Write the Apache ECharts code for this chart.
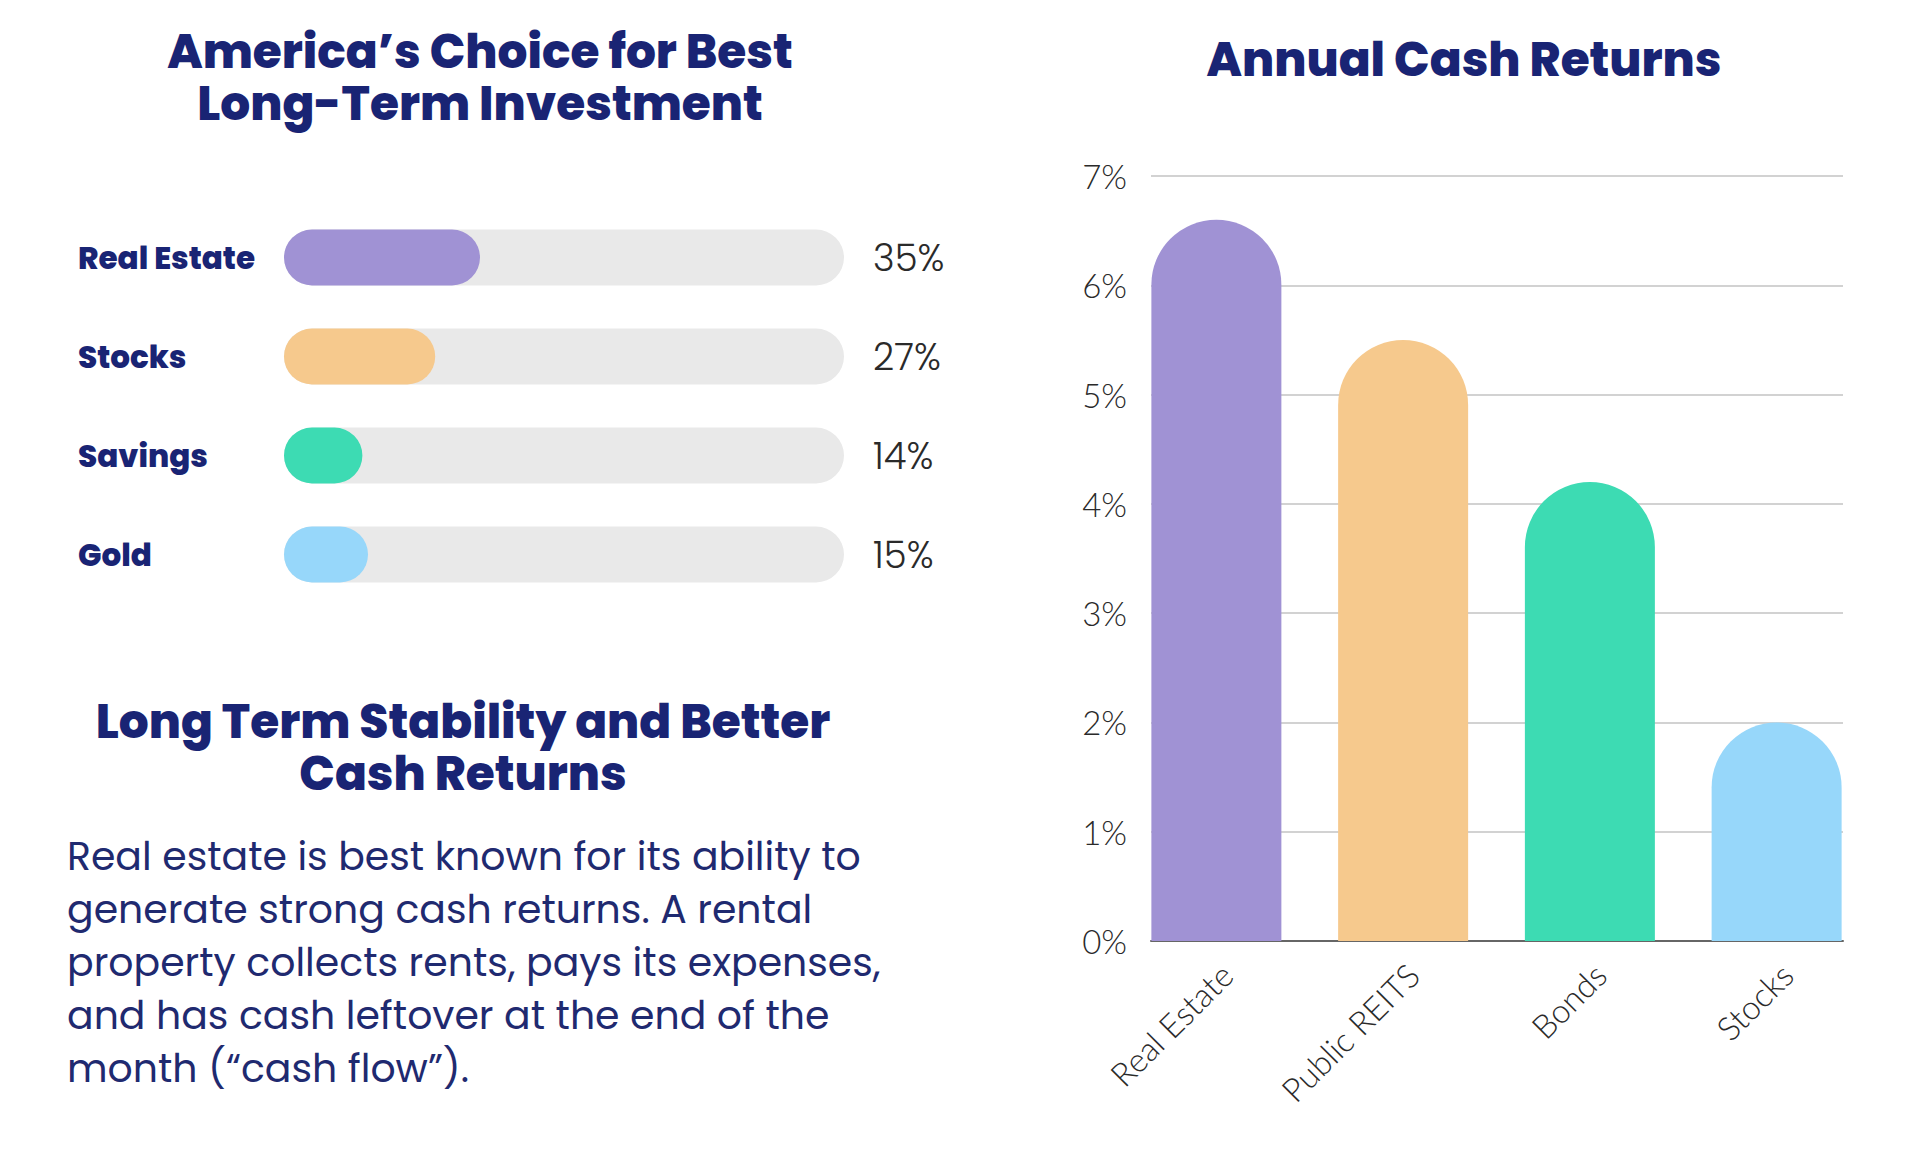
<!DOCTYPE html>
<html>
<head>
<meta charset="utf-8">
<title>Investment returns</title>
<script src="https://cdn.jsdelivr.net/npm/echarts@6/dist/echarts.min.js"></script>
<style>
  html, body { margin: 0; padding: 0; background: #fff; }
  #main { width: 1920px; height: 1168px; }
</style>
</head>
<body>
<div id="main"></div>
<script>
// left: survey share (percent of respondents)
var choiceCats = ['Real Estate', 'Stocks', 'Savings', 'Gold'];
var choiceVals = [35, 27, 14, 15];

// right: annual cash returns (percent)
var returnCats = ['Real Estate', 'Public REITS', 'Bonds', 'Stocks'];
var returnVals = [6.6, 5.5, 4.2, 2.0];

var palette = ['#A092D4', '#F6C98D', '#3DDBB3', '#97D7FA'];

var paragraph = [
  'Real estate is best known for its ability to',
  'generate strong cash returns. A rental',
  'property collects rents, pays its expenses,',
  'and has cash leftover at the end of the',
  'month (\u201Ccash flow\u201D).'
];

var navy = '#192474';
var headFont = 'Poppins, Inter, "Noto Sans", sans-serif';
var bodyFont = 'Poppins, "Open Sans", "Noto Sans", sans-serif';
var lightFont = 'Lato, "Open Sans", sans-serif';

function colored(vals) {
  return vals.map(function (v, i) {
    return { value: v, itemStyle: { color: palette[i] } };
  });
}

// one title entry per heading line so boxes don't pile up
function heading(text, cx, cy, size) {
  return {
    text: text, left: cx, top: cy - 25, textAlign: 'center', padding: 0,
    textStyle: { fontFamily: headFont, fontSize: size, fontWeight: 800, color: navy, lineHeight: 50 }
  };
}

var chart = echarts.init(document.getElementById('main'), null, { renderer: 'svg' });

chart.setOption({
  backgroundColor: '#ffffff',
  animation: false,
  title: [
    heading('America\u2019s Choice for Best', 480, 51, 47),
    heading('Long-Term Investment', 480, 103, 47),
    heading('Long Term Stability and Better', 463, 721, 47),
    heading('Cash Returns', 463, 773, 47),
    {
      text: paragraph.join('\n'),
      left: 67, top: 830, padding: 0,
      textStyle: { fontFamily: bodyFont, fontSize: 39.4, fontWeight: 400, color: '#1F2A70', lineHeight: 53 }
    },
    heading('Annual Cash Returns', 1464, 59, 47)
  ],
  grid: [
    { left: 284, width: 560, top: 208, height: 396 },   // progress bars
    { left: 1151, width: 692, top: 176, height: 765 },  // gridlines + y labels
    { left: 1123, width: 747, top: 176, height: 765 },  // column bars
    { left: 1133, width: 747, top: 176, height: 765 }   // category labels (nudged right)
  ],
  xAxis: [
    { gridIndex: 0, type: 'value', min: 0, max: 100, show: false },
    {
      gridIndex: 1, type: 'category', data: returnCats,
      axisLine: { lineStyle: { color: '#666666', width: 2 } },
      axisTick: { show: false }, axisLabel: { show: false }
    },
    {
      gridIndex: 2, type: 'category', data: returnCats,
      axisLine: { show: false }, axisTick: { show: false }, axisLabel: { show: false }
    },
    {
      gridIndex: 3, type: 'category', data: returnCats,
      axisLine: { show: false }, axisTick: { show: false },
      axisLabel: {
        rotate: 45, margin: 28, fontSize: 33, color: '#2A2A2A',
        fontFamily: lightFont, fontWeight: 300
      }
    }
  ],
  yAxis: [
    {
      gridIndex: 0, type: 'category', data: choiceCats, inverse: true,
      axisLine: { show: false }, axisTick: { show: false },
      axisLabel: {
        align: 'left', margin: 206, fontSize: 31, fontWeight: 800,
        color: navy, fontFamily: headFont
      }
    },
    {
      gridIndex: 0, type: 'category', data: choiceCats, inverse: true, position: 'right',
      axisLine: { show: false }, axisTick: { show: false },
      axisLabel: {
        align: 'left', margin: 29, fontSize: 37, color: '#2A2A2A',
        fontFamily: bodyFont, fontWeight: 300,
        formatter: function (v, i) { return choiceVals[i] + '%'; }
      }
    },
    {
      gridIndex: 1, type: 'value', min: 0, max: 7, interval: 1,
      axisLine: { show: false }, axisTick: { show: false },
      axisLabel: {
        formatter: '{value}%', margin: 24, fontSize: 33, color: '#2A2A2A',
        fontFamily: lightFont, fontWeight: 300
      },
      splitLine: { lineStyle: { color: '#D2D2D2', width: 2 } }
    },
    { gridIndex: 2, type: 'value', min: 0, max: 7, show: false },
    { gridIndex: 3, type: 'value', min: 0, max: 7, show: false }
  ],
  series: [
    {
      type: 'bar', xAxisIndex: 0, yAxisIndex: 0,
      data: colored(choiceVals),
      barWidth: 56,
      showBackground: true,
      backgroundStyle: { color: '#E9E9E9', borderRadius: 28 },
      itemStyle: { borderRadius: 28 }
    },
    {
      type: 'bar', xAxisIndex: 2, yAxisIndex: 3,
      data: colored(returnVals),
      barWidth: 130,
      itemStyle: { borderRadius: [65, 65, 0, 0] }
    }
  ]
});
</script>
</body>
</html>
